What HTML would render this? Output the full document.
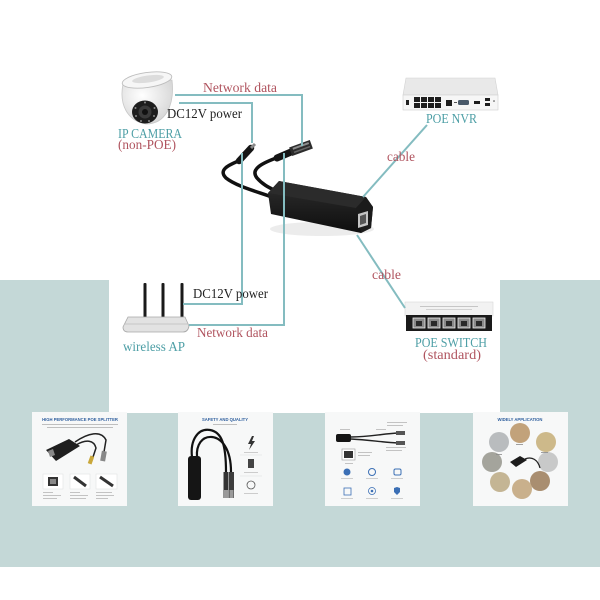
<!DOCTYPE html>
<html><head><meta charset="utf-8"><style>
html,body{margin:0;padding:0;background:#fff;}
svg{display:block}
.t{font-family:"Liberation Serif",serif;}
.s{font-family:"Liberation Sans",sans-serif;}
</style></head><body>
<svg width="600" height="600" viewBox="0 0 600 600" xmlns="http://www.w3.org/2000/svg">
<defs>
<linearGradient id="bodyg" x1="0" y1="0" x2="0" y2="1">
<stop offset="0" stop-color="#2e2e2e"/><stop offset="1" stop-color="#0e0e0e"/>
</linearGradient>
<radialGradient id="dome" cx="0.4" cy="0.35" r="0.7">
<stop offset="0" stop-color="#ffffff"/><stop offset="1" stop-color="#d4d4d4"/>
</radialGradient>
</defs>
<rect width="600" height="600" fill="#fff"/>
<!-- background -->
<rect x="0" y="280" width="600" height="287" fill="#c4d8d7"/>
<rect x="109" y="280" width="391" height="133" fill="#fff"/>

<!-- camera -->
<g>
<path d="M123,84 C119,104 127,121 146,124 C165,124 175,106 172,80 Z" fill="url(#dome)" stroke="#c8c8c8" stroke-width="0.8"/>
<ellipse cx="147" cy="80" rx="25" ry="7.5" fill="#f6f6f6" stroke="#bdbdbd" stroke-width="0.9" transform="rotate(-8 147 80)"/>
<ellipse cx="148" cy="79" rx="16" ry="3.5" fill="#dcdcdc" transform="rotate(-8 148 79)"/>
<ellipse cx="145" cy="112" rx="13" ry="11.5" fill="#1d1d1d"/>
<circle cx="145" cy="112" r="6.5" fill="#3a3a3a"/>
<circle cx="145" cy="112" r="3" fill="#111"/>
<g fill="#8a8a8a"><circle cx="135.5" cy="108" r="1"/><circle cx="136" cy="116" r="1"/><circle cx="141" cy="121" r="1"/><circle cx="149" cy="121" r="1"/><circle cx="154" cy="116" r="1"/><circle cx="154.5" cy="108" r="1"/><circle cx="145" cy="102.5" r="1"/></g>
</g>

<!-- NVR -->
<g>
<polygon points="406,78 495,78 498,95 403,95" fill="#e9e9e9" stroke="#d2d2d2" stroke-width="0.6"/>
<rect x="403" y="95" width="95" height="15" fill="#f6f6f6" stroke="#cfcfcf" stroke-width="0.6"/>
<rect x="406" y="100" width="3" height="5" fill="#222"/>
<g fill="#1e1e1e">
<rect x="414" y="97" width="6" height="5"/><rect x="421" y="97" width="6" height="5"/><rect x="428" y="97" width="6" height="5"/><rect x="435" y="97" width="6" height="5"/>
<rect x="414" y="103" width="6" height="5"/><rect x="421" y="103" width="6" height="5"/><rect x="428" y="103" width="6" height="5"/><rect x="435" y="103" width="6" height="5"/>
<rect x="446" y="100" width="6" height="6"/>
<rect x="474" y="101" width="6" height="3"/>
<rect x="485" y="98" width="5" height="3"/><rect x="485" y="103" width="5" height="3"/>
</g>
<rect x="458" y="100" width="11" height="5" rx="1.5" fill="#4a5a6a"/>
<rect x="454" y="102" width="3" height="1" fill="#555"/>
<circle cx="494" cy="101" r="0.8" fill="#444"/>
</g>

<!-- Switch -->
<g>
<rect x="405" y="302" width="88" height="14" fill="#f2f2f2" stroke="#d8d8d8" stroke-width="0.6"/>
<rect x="420" y="306" width="58" height="1" fill="#c6c6c6"/>
<rect x="426" y="309" width="46" height="1" fill="#d2d2d2"/>
<rect x="406" y="315" width="86" height="16" fill="#1a1a1a"/>
<g fill="#8a8a8a" stroke="#eee" stroke-width="0.8">
<rect x="413" y="318" width="12" height="10"/><rect x="428" y="318" width="12" height="10"/><rect x="443" y="318" width="12" height="10"/><rect x="458" y="318" width="12" height="10"/><rect x="473" y="318" width="12" height="10"/>
</g>
<g fill="#2a2a2a">
<rect x="416" y="321" width="6" height="5"/><rect x="431" y="321" width="6" height="5"/><rect x="446" y="321" width="6" height="5"/><rect x="461" y="321" width="6" height="5"/><rect x="476" y="321" width="6" height="5"/>
</g>
</g>

<!-- Wireless AP -->
<g>
<rect x="143.5" y="283" width="3" height="36" rx="1" fill="#1a1a1a"/>
<rect x="161.5" y="283" width="3" height="36" rx="1" fill="#1a1a1a"/>
<rect x="180.5" y="283" width="3" height="36" rx="1" fill="#1a1a1a"/>
<path d="M128,317 L185,317 L189,326 Q188,332 183,332 L128,332 Q123,332 123,327 Z" fill="#e2e2e2" stroke="#a9a9a9" stroke-width="0.8"/>
<path d="M124,324 L188,324" stroke="#bdbdbd" stroke-width="0.8"/>
</g>

<!-- splitter -->
<ellipse cx="322" cy="229" rx="52" ry="7" fill="#ececec"/>
<g fill="none" stroke="#111" stroke-width="3.5" stroke-linecap="round">
<path d="M241,160 C228,165 218,170 226,178 C236,186 255,191 272,197"/>
<path d="M279,157 C262,163 250,169 257,178 C263,185 270,188 276,191"/>
</g>
<line x1="239" y1="161" x2="251" y2="148" stroke="#151515" stroke-width="6.5" stroke-linecap="round"/>
<line x1="251" y1="148" x2="255" y2="144" stroke="#8a8a8a" stroke-width="3"/>
<line x1="277" y1="158" x2="291" y2="152" stroke="#151515" stroke-width="7" stroke-linecap="round"/>
<g transform="rotate(-20 301 148)">
<rect x="290" y="143.5" width="22" height="9" fill="#2c2c2c"/>
<rect x="293" y="145" width="17" height="2" fill="#8d8d8d"/>
<rect x="293" y="149" width="17" height="1.5" fill="#666"/>
</g>
<polygon points="268,193 279,181 366,197 373,207 371,228 361,233 271,214" fill="url(#bodyg)"/>
<polygon points="268,193 279,181 366,197 356,208" fill="#2b2b2b"/>
<polygon points="356,208 366,197 373,207 371,228 361,233" fill="#1b1b1b"/>
<polygon points="358,214 368,211 368,225 358,228" fill="#c4c4c4"/>
<polygon points="360,216 366,214 366,223 360,225" fill="#555"/>

<!-- connector lines -->
<g stroke="#84bcc0" stroke-width="2" fill="none">
<path d="M175,95 H302 V146"/>
<path d="M179,103 H252 V143"/>
<path d="M242,153 V304 H183"/>
<path d="M284,153 V325 H189"/>
<path d="M427,125 L363,197"/>
<path d="M357,235 L405,308"/>
</g>

<!-- labels -->
<g class="t" font-size="14">
<text x="203" y="92" fill="#b0545f" textLength="74" lengthAdjust="spacingAndGlyphs">Network data</text>
<text x="167" y="118" fill="#222" textLength="75" lengthAdjust="spacingAndGlyphs">DC12V power</text>
<text x="118" y="138" fill="#4e9fa6" textLength="64" lengthAdjust="spacingAndGlyphs">IP CAMERA</text>
<text x="118" y="149" fill="#b0545f" textLength="58" lengthAdjust="spacingAndGlyphs">(non-POE)</text>
<text x="426" y="123" fill="#4e9fa6" textLength="51" lengthAdjust="spacingAndGlyphs">POE NVR</text>
<text x="387" y="161" fill="#b0545f" textLength="28" lengthAdjust="spacingAndGlyphs">cable</text>
<text x="372" y="279" fill="#b0545f" textLength="29" lengthAdjust="spacingAndGlyphs">cable</text>
<text x="415" y="347" fill="#4e9fa6" textLength="72" lengthAdjust="spacingAndGlyphs">POE SWITCH</text>
<text x="423" y="359" fill="#b0545f" textLength="58" lengthAdjust="spacingAndGlyphs">(standard)</text>
<text x="123" y="351" fill="#4e9fa6" textLength="62" lengthAdjust="spacingAndGlyphs">wireless AP</text>
<text x="193" y="298" fill="#222" textLength="75" lengthAdjust="spacingAndGlyphs">DC12V power</text>
<text x="197" y="337" fill="#b0545f" textLength="71" lengthAdjust="spacingAndGlyphs">Network data</text>
</g>

<!-- thumbnail 1 -->
<g>
<rect x="32" y="412" width="95" height="94" fill="#f7f8f8"/>
<text x="80" y="421" class="s" font-size="4.2" font-weight="bold" fill="#2f5f9e" text-anchor="middle">HIGH PERFORMANCE POE SPLITTER</text>
<rect x="42" y="424" width="76" height="0.9" fill="#b9b9b9"/>
<rect x="47" y="427" width="66" height="0.9" fill="#b9b9b9"/>
<path d="M75,442 C88,433 101,430 106,440 L104,452" fill="none" stroke="#222" stroke-width="1.5"/>
<path d="M76,445 C86,439 94,440 96,448 L93,457" fill="none" stroke="#222" stroke-width="1.5"/>
<polygon points="46,450 69,439 80,446 56,461" fill="#1f1f1f"/>
<polygon points="48,451 53,449 55,455 50,457" fill="#888"/>
<rect x="89" y="456" width="4" height="8" fill="#c9a73a" transform="rotate(20 91 460)"/>
<rect x="101" y="451" width="5" height="10" fill="#888" transform="rotate(10 103 456)"/>
<rect x="43" y="474" width="20" height="15" fill="#fff" stroke="#ddd" stroke-width="0.5"/>
<rect x="48" y="477" width="10" height="9" fill="#333"/>
<rect x="50" y="479" width="6" height="5" fill="#888"/>
<rect x="70" y="474" width="20" height="15" fill="#fff" stroke="#ddd" stroke-width="0.5"/>
<line x1="74" y1="477" x2="86" y2="486" stroke="#333" stroke-width="3"/>
<rect x="96" y="474" width="21" height="15" fill="#fff" stroke="#ddd" stroke-width="0.5"/>
<line x1="100" y1="477" x2="113" y2="486" stroke="#333" stroke-width="3"/>
<g fill="#bdbdbd">
<rect x="43" y="492" width="10" height="0.9"/><rect x="43" y="495" width="18" height="0.9"/><rect x="43" y="498" width="14" height="0.9"/>
<rect x="70" y="492" width="10" height="0.9"/><rect x="70" y="495" width="18" height="0.9"/><rect x="70" y="498" width="16" height="0.9"/>
<rect x="96" y="492" width="16" height="0.9"/><rect x="96" y="495" width="18" height="0.9"/><rect x="96" y="498" width="12" height="0.9"/>
</g>
</g>

<!-- thumbnail 2 -->
<g>
<rect x="178" y="412" width="95" height="94" fill="#f7f8f8"/>
<text x="225" y="421" class="s" font-size="4.2" font-weight="bold" fill="#2f5f9e" text-anchor="middle">SAFETY AND QUALITY</text>
<rect x="213" y="424" width="24" height="0.9" fill="#b9b9b9"/>
<path d="M192,457 C190,440 198,428 210,430 C222,432 226,445 226,472" fill="none" stroke="#111" stroke-width="2.2"/>
<path d="M197,457 C196,445 202,436 212,437 C221,438 231,448 231,472" fill="none" stroke="#111" stroke-width="2.2"/>
<rect x="188" y="456" width="13" height="44" rx="3" fill="#151515"/>
<rect x="223.5" y="472" width="5" height="26" fill="#333"/>
<rect x="229" y="472" width="5" height="26" fill="#3d3d3d"/>
<rect x="224" y="490" width="4" height="8" fill="#9a9a9a"/>
<rect x="229.5" y="490" width="4" height="8" fill="#9a9a9a"/>
<polygon points="252,436 248,444 251,444 249,450 255,441 252,441 254,436" fill="#333"/>
<line x1="240" y1="455" x2="262" y2="455" stroke="#ddd" stroke-width="0.5"/>
<rect x="248" y="459" width="6" height="9" fill="#444"/>
<line x1="240" y1="476" x2="262" y2="476" stroke="#ddd" stroke-width="0.5"/>
<circle cx="251" cy="485" r="4" fill="none" stroke="#555" stroke-width="0.8"/>
<g fill="#c2c2c2"><rect x="244" y="452" width="14" height="0.8"/><rect x="244" y="472" width="14" height="0.8"/><rect x="244" y="493" width="14" height="0.8"/></g>
</g>

<!-- thumbnail 3 -->
<g>
<rect x="325" y="412" width="95" height="94" fill="#f7f8f8"/>
<g fill="#bdbdbd"><rect x="387" y="422" width="20" height="0.9"/><rect x="387" y="425" width="16" height="0.9"/><rect x="340" y="429" width="10" height="0.9"/><rect x="376" y="429" width="10" height="0.9"/><rect x="386" y="447" width="20" height="0.9"/><rect x="386" y="450" width="16" height="0.9"/><rect x="358" y="452" width="14" height="0.9"/><rect x="358" y="455" width="12" height="0.9"/><rect x="345" y="463" width="8" height="0.9"/></g>
<path d="M351,437 C370,437 380,434 398,433" fill="none" stroke="#222" stroke-width="1.4"/>
<path d="M351,439 C370,440 380,442 398,443" fill="none" stroke="#222" stroke-width="1.4"/>
<rect x="336" y="434" width="15" height="8" rx="2" fill="#151515"/>
<rect x="396" y="431" width="9" height="4" fill="#555"/>
<rect x="396" y="441" width="9" height="4" fill="#555"/>
<rect x="342" y="449" width="13" height="11" fill="#fff" stroke="#999" stroke-width="0.6"/>
<rect x="344" y="451" width="9" height="7" fill="#333"/>
<circle cx="347" cy="472" r="3.5" fill="#3b6fb5"/>
<circle cx="372" cy="472" r="3.5" fill="none" stroke="#3b6fb5" stroke-width="1"/>
<rect x="394" y="469" width="7" height="6" rx="1.5" fill="none" stroke="#3b6fb5" stroke-width="1"/>
<rect x="344" y="488" width="7" height="7" fill="none" stroke="#3b6fb5" stroke-width="0.8"/>
<circle cx="372" cy="491" r="3.5" fill="none" stroke="#3b6fb5" stroke-width="0.8"/><circle cx="372" cy="491" r="1.3" fill="#3b6fb5"/>
<path d="M394,488 L397,487 L400,488 L400,492 L397,495 L394,492 Z" fill="#3b6fb5"/>
<g fill="#c4c4c4"><rect x="341" y="478" width="12" height="0.8"/><rect x="366" y="478" width="12" height="0.8"/><rect x="391" y="478" width="12" height="0.8"/><rect x="341" y="498" width="12" height="0.8"/><rect x="366" y="498" width="12" height="0.8"/><rect x="391" y="498" width="12" height="0.8"/></g>
</g>

<!-- thumbnail 4 -->
<g>
<rect x="473" y="412" width="95" height="94" fill="#f7f8f8"/>
<text x="520" y="421" class="s" font-size="4.2" font-weight="bold" fill="#2f5f9e" text-anchor="middle">WIDELY APPLICATION</text>
<circle cx="499" cy="442" r="10" fill="#b9bcbe"/>
<circle cx="520" cy="433" r="10" fill="#c2a27a"/>
<circle cx="546" cy="442" r="10" fill="#cdb98a"/>
<circle cx="548" cy="462" r="10" fill="#c8c9c9"/>
<circle cx="540" cy="481" r="10" fill="#a98e70"/>
<circle cx="522" cy="489" r="10" fill="#c9b08c"/>
<circle cx="500" cy="482" r="10" fill="#c4b594"/>
<circle cx="492" cy="462" r="10" fill="#a4a49c"/>
<polygon points="510,462 520,456 527,460 516,467" fill="#1c1c1c"/>
<path d="M525,459 C532,456 538,460 540,468" fill="none" stroke="#222" stroke-width="1.3"/>
<g fill="#8a8a8a"><rect x="496" y="454" width="6" height="0.8"/><rect x="516" y="444" width="7" height="0.8"/><rect x="541" y="452" width="7" height="0.8"/></g>
</g>
</svg>
</body></html>
